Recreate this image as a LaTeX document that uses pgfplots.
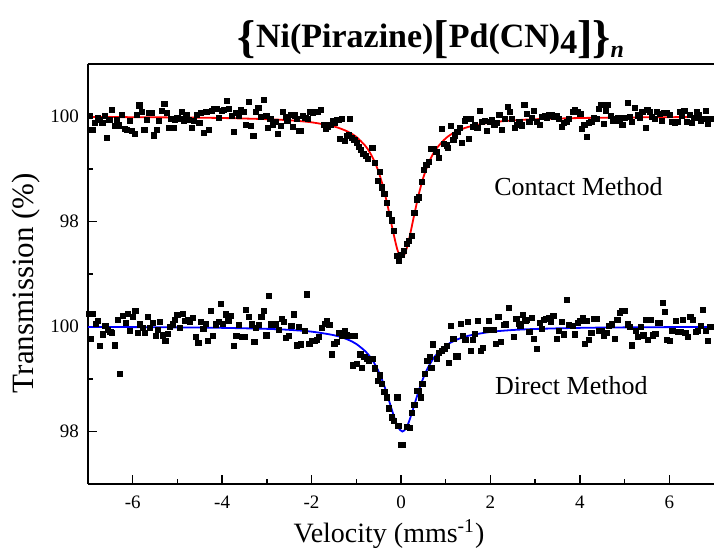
\documentclass[border=0pt]{standalone}
\usepackage{fontspec}
\setmainfont{Liberation Serif}
\usepackage{pgfplots}
\pgfplotsset{compat=1.18}
\usepackage{pgfplotstable}

\pgfplotstableread{
x y
-6.95 100.01
-6.90 99.74
-6.84 99.88
-6.78 99.97
-6.73 99.94
-6.68 99.88
-6.63 100.01
-6.57 99.59
-6.52 99.94
-6.46 100.12
-6.39 99.82
-6.35 99.94
-6.30 99.83
-6.24 100.03
-6.18 99.77
-6.13 99.74
-6.07 99.92
-6.01 99.72
-5.96 99.67
-5.91 100.03
-5.85 100.21
-5.79 100.08
-5.74 99.75
-5.69 99.93
-5.63 100.07
-5.57 100.07
-5.52 99.64
-5.46 99.74
-5.41 99.92
-5.35 100.11
-5.29 100.24
-5.24 100.07
-5.19 99.78
-5.14 99.96
-5.09 99.78
-5.05 99.94
-5.00 99.97
-4.95 99.95
-4.90 100.08
-4.85 99.92
-4.80 100.03
-4.74 99.94
-4.68 99.78
-4.63 99.91
-4.57 100.03
-4.51 99.88
-4.48 100.07
-4.40 99.69
-4.35 100.08
-4.29 99.75
-4.23 100.11
-4.18 100.14
-4.13 100.14
-4.07 99.97
-4.01 100.11
-3.96 100.13
-3.90 100.30
-3.85 100.14
-3.79 100.01
-3.74 99.70
-3.68 100.07
-3.62 100.01
-3.58 100.13
-3.51 100.09
-3.46 99.84
-3.41 100.28
-3.36 99.82
-3.30 99.63
-3.25 100.09
-3.19 100.16
-3.13 99.99
-3.07 100.31
-3.01 100.01
-2.97 99.78
-2.92 99.96
-2.87 99.84
-2.81 99.89
-2.75 99.67
-2.69 99.82
-2.64 100.09
-2.58 99.99
-2.54 99.92
-2.47 100.03
-2.42 99.80
-2.38 100.02
-2.33 99.96
-2.27 99.72
-2.24 99.72
-2.20 100.01
-2.14 99.97
-2.08 99.96
-2.03 100.09
-1.97 100.07
-1.92 100.08
-1.86 100.09
-1.80 100.13
-1.73 99.84
-1.68 99.77
-1.63 99.80
-1.58 99.84
-1.53 99.92
-1.49 99.88
-1.43 99.94
-1.38 99.94
-1.36 99.57
-1.32 99.96
-1.26 99.53
-1.21 99.63
-1.16 99.64
-1.14 99.96
-1.10 99.59
-1.04 99.55
-0.99 99.50
-0.95 99.42
-0.89 99.36
-0.84 99.28
-0.79 99.25
-0.74 99.19
-0.64 99.40
-0.58 99.11
-0.52 98.77
-0.47 98.94
-0.42 98.65
-0.37 98.52
-0.32 98.35
-0.27 98.14
-0.21 98.02
-0.15 97.82
-0.10 97.35
-0.04 97.25
0.01 97.36
0.07 97.44
0.13 97.57
0.18 97.63
0.24 97.72
0.30 98.16
0.35 98.42
0.40 98.46
0.46 98.76
0.52 98.98
0.57 99.08
0.62 99.13
0.68 99.39
0.74 99.38
0.79 99.33
0.85 99.21
0.91 99.77
0.96 99.48
1.02 99.45
1.05 99.40
1.11 99.82
1.17 99.55
1.20 99.64
1.26 99.70
1.31 99.78
1.37 99.50
1.43 99.91
1.46 99.96
1.51 99.58
1.56 99.96
1.61 99.80
1.66 99.83
1.71 99.78
1.76 100.11
1.81 99.89
1.87 99.92
1.93 99.72
1.98 99.89
2.03 99.94
2.09 99.84
2.15 99.88
2.20 100.03
2.26 99.74
2.32 99.96
2.39 100.19
2.43 100.08
2.48 99.96
2.54 99.78
2.60 99.84
2.65 99.89
2.70 99.83
2.76 100.22
2.82 100.05
2.87 99.89
2.92 99.97
2.98 100.11
3.04 99.89
3.10 99.84
3.15 99.99
3.21 100.01
3.27 99.97
3.32 100.03
3.37 100.02
3.43 99.99
3.49 100.01
3.54 99.96
3.59 99.80
3.65 99.88
3.71 99.89
3.76 99.96
3.84 100.09
3.89 100.13
3.95 100.08
4.01 100.05
4.04 99.77
4.10 99.84
4.16 99.61
4.21 99.88
4.26 99.89
4.32 99.97
4.38 99.96
4.43 100.14
4.48 100.22
4.53 99.86
4.58 100.11
4.63 100.22
4.69 100.01
4.75 99.92
4.80 99.96
4.86 99.97
4.90 99.91
4.95 99.84
5.00 99.97
5.08 100.26
5.12 99.99
5.17 99.89
5.23 100.16
5.29 100.02
5.35 99.97
5.40 100.09
5.47 99.78
5.51 100.13
5.57 100.08
5.62 99.99
5.67 99.96
5.73 100.09
5.79 100.05
5.84 99.91
5.89 100.07
5.95 100.07
6.01 100.03
6.07 99.89
6.12 99.88
6.18 99.89
6.24 100.08
6.29 100.01
6.34 100.11
6.40 99.89
6.46 100.03
6.51 99.88
6.56 99.97
6.61 100.08
6.66 100.03
6.71 99.92
6.77 99.96
6.81 100.11
6.86 99.86
6.92 99.96
}\topdata

\pgfplotstableread{
x y
-6.97 100.24
-6.93 99.77
-6.89 100.24
-6.83 100.05
-6.78 100.10
-6.73 99.63
-6.67 99.85
-6.61 100.01
-6.56 99.94
-6.50 99.90
-6.46 99.88
-6.39 99.64
-6.33 100.13
-6.28 99.10
-6.22 100.20
-6.16 100.07
-6.11 100.24
-6.06 99.92
-6.00 100.18
-5.94 100.30
-5.89 99.88
-5.84 100.04
-5.78 99.97
-5.72 99.88
-5.66 100.18
-5.61 99.97
-5.55 100.07
-5.49 99.82
-5.44 99.94
-5.39 100.09
-5.33 99.83
-5.27 99.73
-5.22 99.86
-5.17 99.99
-5.11 100.04
-5.05 100.13
-5.00 100.22
-4.94 99.97
-4.88 100.24
-4.83 100.11
-4.77 100.13
-4.72 100.09
-4.66 100.17
-4.59 99.80
-4.53 99.69
-4.48 100.09
-4.42 99.96
-4.37 100.05
-4.31 99.72
-4.25 100.30
-4.20 99.82
-4.14 100.04
-4.08 100.09
-4.03 100.43
-3.98 100.05
-3.92 100.23
-3.86 100.11
-3.80 100.20
-3.74 99.63
-3.68 99.82
-3.62 100.03
-3.56 99.80
-3.50 99.80
-3.46 100.32
-3.40 100.18
-3.34 100.04
-3.28 99.71
-3.24 99.97
-3.18 100.03
-3.12 100.18
-3.07 100.30
-3.01 99.83
-2.95 100.58
-2.90 100.04
-2.84 100.04
-2.79 100.04
-2.73 99.94
-2.67 100.15
-2.61 100.09
-2.57 99.78
-2.51 99.82
-2.45 100.01
-2.39 100.23
-2.33 99.64
-2.29 99.99
-2.23 99.66
-2.15 99.91
-2.10 100.61
-2.05 99.67
-1.99 99.72
-1.93 99.73
-1.88 99.75
-1.83 99.80
-1.77 99.97
-1.71 100.05
-1.66 100.10
-1.60 100.03
-1.54 99.47
-1.49 99.67
-1.43 99.71
-1.38 99.88
-1.32 99.83
-1.26 99.92
-1.21 99.83
-1.14 99.82
-1.08 99.26
-1.04 99.82
-0.99 99.28
-0.91 99.47
-0.88 99.21
-0.82 99.42
-0.76 99.39
-0.71 99.35
-0.64 99.39
-0.58 99.20
-0.52 98.97
-0.47 99.07
-0.42 98.90
-0.37 98.76
-0.32 98.65
-0.27 98.44
-0.21 98.27
-0.15 98.20
-0.08 98.65
-0.06 98.10
0.00 97.74
0.05 97.74
0.13 98.08
0.20 98.07
0.24 98.36
0.30 98.50
0.35 98.77
0.40 98.78
0.45 98.65
0.48 98.90
0.53 99.10
0.59 99.35
0.65 99.42
0.68 99.21
0.72 99.66
0.80 99.39
0.85 99.50
0.91 99.53
0.97 99.58
1.02 99.63
1.07 99.31
1.11 100.01
1.17 99.77
1.22 99.43
1.28 99.43
1.34 100.05
1.39 99.82
1.44 99.75
1.50 100.09
1.56 99.54
1.61 99.75
1.66 99.86
1.72 100.11
1.78 99.53
1.83 99.59
1.89 99.94
1.96 100.11
2.02 99.94
2.08 99.94
2.13 99.67
2.18 100.18
2.24 99.71
2.30 100.03
2.35 100.04
2.41 100.36
2.52 99.80
2.58 100.15
2.63 100.05
2.67 100.01
2.72 100.22
2.78 100.11
2.82 100.13
2.87 99.90
2.92 100.17
2.98 99.77
3.04 99.58
3.10 100.07
3.15 99.96
3.19 100.13
3.24 100.15
3.30 100.17
3.36 100.09
3.41 100.20
3.49 99.77
3.54 99.91
3.59 100.09
3.65 99.85
3.71 100.51
3.76 100.03
3.84 100.01
3.89 99.85
3.95 100.07
4.01 100.11
4.06 100.17
4.11 99.67
4.16 100.11
4.21 99.75
4.26 99.88
4.32 100.15
4.38 100.15
4.43 99.92
4.48 99.92
4.54 99.83
4.60 99.88
4.65 100.01
4.71 100.04
4.78 99.77
4.84 100.13
4.90 100.26
4.95 100.30
5.00 100.30
5.08 100.04
5.12 99.99
5.17 99.64
5.25 99.91
5.30 99.80
5.36 99.99
5.42 99.83
5.47 100.13
5.52 99.75
5.58 100.13
5.64 99.83
5.69 99.86
5.75 100.07
5.79 100.07
5.86 100.45
5.91 100.28
5.95 99.75
6.01 99.73
6.07 99.92
6.14 100.11
6.19 99.90
6.25 99.90
6.31 100.13
6.36 99.88
6.41 99.80
6.47 100.18
6.53 100.13
6.59 99.90
6.64 99.92
6.70 100.01
6.76 100.32
6.81 99.92
6.86 99.72
6.92 99.99
}\bottomdata

\pgfplotstableread{
x y
-7 99.990
-6 99.987
-5 99.981
-4 99.971
-3 99.949
-2.5 99.928
-2 99.889
-1.5 99.810
-1.2 99.716
-1.0 99.612
-0.8 99.443
-0.7 99.320
-0.6 99.157
-0.5 98.942
-0.4 98.660
-0.3 98.304
-0.2 97.897
-0.1 97.522
-0.05 97.393
0.02 97.320
0.05 97.334
0.1 97.414
0.15 97.554
0.2 97.736
0.3 98.144
0.4 98.527
0.5 98.838
0.6 99.078
0.7 99.260
0.8 99.398
1.0 99.584
1.2 99.699
1.5 99.800
2 99.885
2.5 99.925
3 99.948
4 99.971
5 99.981
6 99.987
7 99.990
}\topfit

\pgfplotstableread{
x y
-7 99.991
-6 99.988
-5 99.983
-4 99.974
-3 99.955
-2.5 99.936
-2 99.902
-1.5 99.834
-1.2 99.755
-1.0 99.667
-0.8 99.530
-0.7 99.432
-0.6 99.305
-0.5 99.141
-0.4 98.933
-0.3 98.680
-0.2 98.400
-0.1 98.148
-0.05 98.059
0.03 98.000
0.1 98.045
0.15 98.127
0.2 98.240
0.3 98.512
0.4 98.786
0.5 99.022
0.6 99.211
0.7 99.359
0.8 99.474
1.0 99.633
1.2 99.732
1.5 99.822
2 99.897
2.5 99.933
3 99.953
4 99.974
5 99.983
6 99.988
7 99.991
}\bottomfit

\pgfplotsset{
  panel/.style={
    scale only axis, width=313pt, height=105pt,
    xmin=-7, xmax=7, ymin=97, ymax=101,
    axis line style={-, line width=0.8pt, black},
    x axis line style={-}, y axis line style={-},
    tick style={black, line width=0.7pt},
    major tick length=4.5pt, minor tick length=2.5pt,
    tick align=inside,
    ytick={98,100}, minor ytick={97,99,101},
    yticklabel style={font=\fontsize{9.5}{11}\selectfont, xshift=-1pt},
    xticklabel style={font=\fontsize{9.5}{11}\selectfont, yshift=-2.5pt},
    /pgf/number format/assume math mode=true,
    clip=false,
  },
  dots/.style={only marks, mark=square*, mark size=1.3pt, black},
}

\begin{document}
\begin{tikzpicture}
\path[use as bounding box] (0pt,0pt) rectangle (357pt,275.5pt);

\begin{axis}[panel, at={(44pt,138.5pt)}, anchor=south west,
  axis x line*=top, axis y line*=left, xtick=\empty, minor xtick={}]
\addplot[dots] table {\topdata};
\addplot[red, line width=0.9pt, smooth, no markers] table {\topfit};
\node[anchor=base, font=\fontsize{13}{15}\selectfont] at (axis cs:3.97,98.50) {Contact Method};
\end{axis}

\begin{axis}[panel, at={(44pt,33.5pt)}, anchor=south west,
  axis x line*=bottom, axis y line*=left,
  xtick={-6,-4,-2,0,2,4,6}, minor xtick={-5,-3,-1,1,3,5}]
\addplot[dots] table {\bottomdata};
\addplot[blue, line width=0.9pt, smooth, no markers] table {\bottomfit};
\node[anchor=base, font=\fontsize{13}{15}\selectfont] at (axis cs:3.81,98.70) {Direct Method};
\end{axis}

\node[anchor=base, font=\fontsize{17}{20}\selectfont\bfseries] at (215.5pt,251.5pt)
  {{\fontsize{23}{20}\selectfont\raisebox{-2.5pt}{\{}}Ni(Pirazine){\fontsize{23}{20}\selectfont\raisebox{-2.5pt}{[}}Pd(CN)\raisebox{-3pt}{4}{\fontsize{23}{20}\selectfont\raisebox{-2.5pt}{]\}}}\raisebox{-5pt}{\fontsize{12}{14}\selectfont\textit{n}}};

\node[rotate=90, anchor=base, font=\fontsize{15.5}{18}\selectfont] at (16.5pt,134pt) {Transmission (\%)};
\node[anchor=base, font=\fontsize{14}{16}\selectfont] at (194.5pt,4pt) {Velocity (mms\textsuperscript{-1})};
\end{tikzpicture}
\end{document}
